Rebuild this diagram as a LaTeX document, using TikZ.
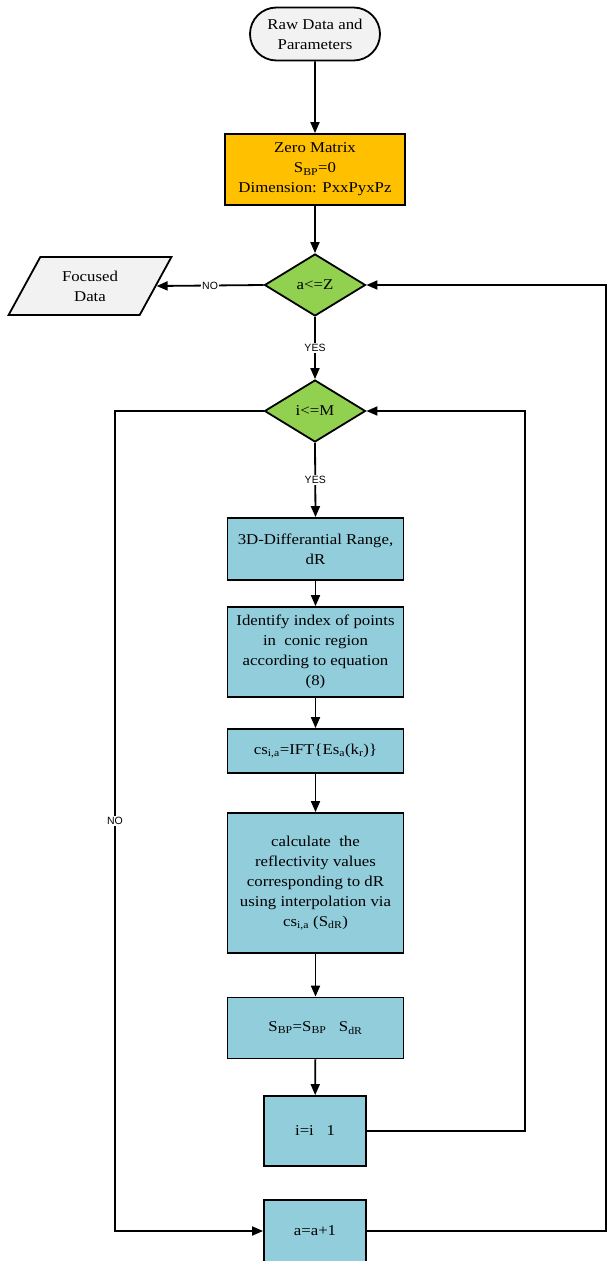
\documentclass[tikz,border=0pt]{standalone}
\usepackage{fontspec}
\setmainfont{Liberation Serif}[FakeStretch=1.12]
\newfontfamily\lblfont{Liberation Sans}
\usetikzlibrary{arrows.meta,shapes.geometric,shapes.misc}
\definecolor{procblue}{RGB}{146,205,220}
\definecolor{initorange}{RGB}{255,192,0}
\definecolor{testgreen}{RGB}{146,208,80}
\definecolor{termgray}{RGB}{242,242,242}

\begin{document}
\begin{tikzpicture}[x=1pt,y=-1pt,>={Triangle[length=11pt,width=9pt]},line width=1.8pt,
  every node/.style={font=\fontsize{15}{20}\selectfont,align=center,inner sep=2pt},
  term/.style={rounded rectangle,draw,fill=termgray,minimum width=134pt,minimum height=53pt},
  proc/.style={draw,fill=procblue,minimum width=176pt},
  test/.style={diamond,draw,fill=testgreen,minimum width=101pt,minimum height=62pt,inner sep=0pt},
  lbl/.style={fill=white,font=\lblfont\fontsize{10.5}{12}\selectfont,inner sep=1pt}]
\useasboundingbox (0,0) rectangle (607,1261);
\node[term] (start) at (315,34) {Raw Data and\\Parameters};
\node[draw,fill=initorange,minimum width=180pt,minimum height=71pt] (zero) at (315,169.5)
  {Zero Matrix\\S\textsubscript{BP}=0\\Dimension: PxxPyxPz};
\node[test] (testa) at (315,285) {a<=Z};
\node[trapezium,trapezium left angle=61,trapezium right angle=119,trapezium stretches=true,
  draw,fill=termgray,minimum width=164pt,minimum height=58pt] (out) at (90,286) {Focused\\Data};
\node[test] (testi) at (315,411) {i<=M};
\node[proc,minimum height=62pt] (diff) at (315.5,549) {3D-Differantial Range,\\dR};
\node[proc,minimum height=90pt] (ident) at (315.5,652)
  {Identify index of points\\in~ conic region\\according to equation\\(8)};
\node[proc,minimum height=44pt] (ift) at (315.5,751)
  {cs\textsubscript{i,a}=IFT\{Es\textsubscript{a}(k\textsubscript{r})\}};
\node[proc,minimum height=140pt] (interp) at (315.5,883)
  {calculate~ the\\reflectivity values\\corresponding to dR\\using interpolation via\\cs\textsubscript{i,a} (S\textsubscript{dR})};
\node[proc,minimum height=61pt] (sum) at (315.5,1028)
  {S\textsubscript{BP}=S\textsubscript{BP}~~ S\textsubscript{dR}};
\node[draw,fill=procblue,minimum width=102pt,minimum height=70pt] (inci) at (315,1131) {i=i~~ 1};
\node[draw,fill=procblue,minimum width=102pt,minimum height=62pt] (inca) at (315,1231) {a=a+1};
\coordinate (rloop) at (525,1131);
\coordinate (lloop) at (115,411);
\coordinate (edge) at (606,1231);
\draw[->] (start) -- (zero);
\draw[->] (zero) -- (testa);
\draw[->] (testa.west) -- node[lbl]{NO} (out.east);
\draw[->] (testa.south) -- node[lbl]{YES} (testi.north);
\draw[->] (testi.south) -- node[lbl]{YES} (diff.north);
\draw[->] (diff) -- (ident);
\draw[->] (ident) -- (ift);
\draw[->] (ift) -- (interp);
\draw[->] (interp) -- (sum);
\draw[->] (sum) -- (inci);
\draw[->] (inci.east) -- (rloop) |- (testi.east);
\draw[->] (testi.west) -- (lloop) -- node[lbl]{NO} (lloop |- inca.west) -- (inca.west);
\draw[->] (inca.east) -- (edge) |- (testa.east);
\end{tikzpicture}
\end{document}
